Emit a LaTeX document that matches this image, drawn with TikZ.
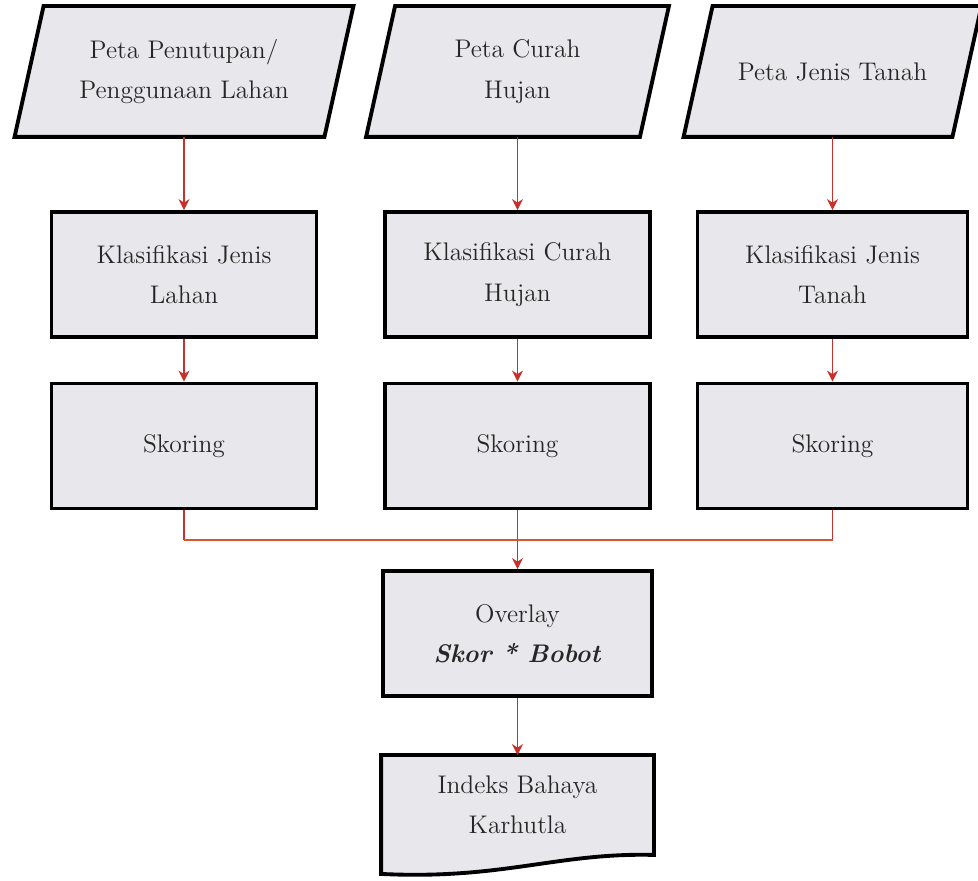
\documentclass[tikz,border=0pt]{standalone}
\usepackage{fontspec}
\usepackage{tikz}
\usetikzlibrary{positioning,arrows.meta,calc,backgrounds}
\definecolor{boxfill}{HTML}{E8E8EC}
\definecolor{arrowred}{HTML}{C8302C}
\definecolor{mergeorange}{HTML}{D9542F}

\begin{document}
\begin{tikzpicture}[on grid,>={Stealth[length=2.2mm,width=2.2mm]},
		font=\fontsize{14.5}{23}\selectfont,text=black!85,
		data/.style={rectangle,line width=2.2pt,minimum height=2.54cm,align=center},
		databox/.style={draw,line width=2.2pt,fill=boxfill,line join=miter},
		proc/.style={rectangle,draw,line width=2.2pt,fill=boxfill,
			minimum width=5.3cm,minimum height=2.5cm,align=center},
		link/.style={draw=arrowred,line width=0.8pt}]
   \useasboundingbox (0,0) rectangle (19.56,-17.62);

   % input maps
   \node [data,minimum width=5.4cm]  (p2) at (10.35,-1.43) {Peta Curah\\Hujan};
   \node [data,minimum width=6.12cm] (p1) [left=6.67cm of p2] {Peta Penutupan/\\Penggunaan Lahan};
   \node [data,minimum width=5.3cm]  (p3) [right=6.3cm of p2] {Peta Jenis Tanah};

   % classification
   \node [proc] (k1) [below=4.06cm of p1] {Klasifikasi Jenis\\Lahan} edge [link,<-] (p1);
   \node [proc] (k2) [below=4.06cm of p2] {Klasifikasi Curah\\Hujan} edge [link,<-] (p2);
   \node [proc,minimum width=5.4cm] (k3) [below=4.06cm of p3] {Klasifikasi Jenis\\Tanah} edge [link,<-] (p3);

   % scoring
   \node [proc] (s1) [below=3.43cm of k1] {Skoring} edge [link,<-] (k1);
   \node [proc] (s2) [below=3.43cm of k2] {Skoring} edge [link,<-] (k2);
   \node [proc,minimum width=5.4cm] (s3) [below=3.43cm of k3] {Skoring} edge [link,<-] (k3);

   \node [proc,minimum width=5.38cm] (ov) [below=3.75cm of s2] {Overlay\\\textbf{\textit{Skor * Bobot}}} edge [link,<-] (s2);
   \node [proc,minimum width=5.38cm,minimum height=1.92cm,draw=none,fill=none] (ix) [below=3.43cm of ov] {Indeks Bahaya\\Karhutla} edge [link,<-] (ov);

   % parallelograms and document shape behind the texts
   \begin{scope}[on background layer]
   \foreach \n in {p1,p2,p3}
      \draw [databox] ([xshift=0.29cm]\n.north west) -- ([xshift=0.29cm]\n.north east)
         -- ([xshift=-0.29cm]\n.south east) -- ([xshift=-0.29cm]\n.south west) -- cycle;
   \draw [databox] (ix.south east) -- (ix.north east) -- (ix.north west)
      -- ($(ix.south west)+(0,-0.38)$) .. controls ($(ix.south)+(-0.3,-0.5)$) and ($(ix.south)+(0.8,0.05)$) .. (ix.south east) -- cycle;
   \end{scope}

   % merge of the three scores
   \coordinate (join) at ($(s2.south)!0.5!(ov.north)$);
   \draw [link] (s1) -- (s1 |- join);
   \draw [link] (s3) -- (s3 |- join);
   \draw [link,draw=mergeorange,line width=1.1pt] (s1 |- join) -- (s3 |- join);
\end{tikzpicture}
\end{document}
